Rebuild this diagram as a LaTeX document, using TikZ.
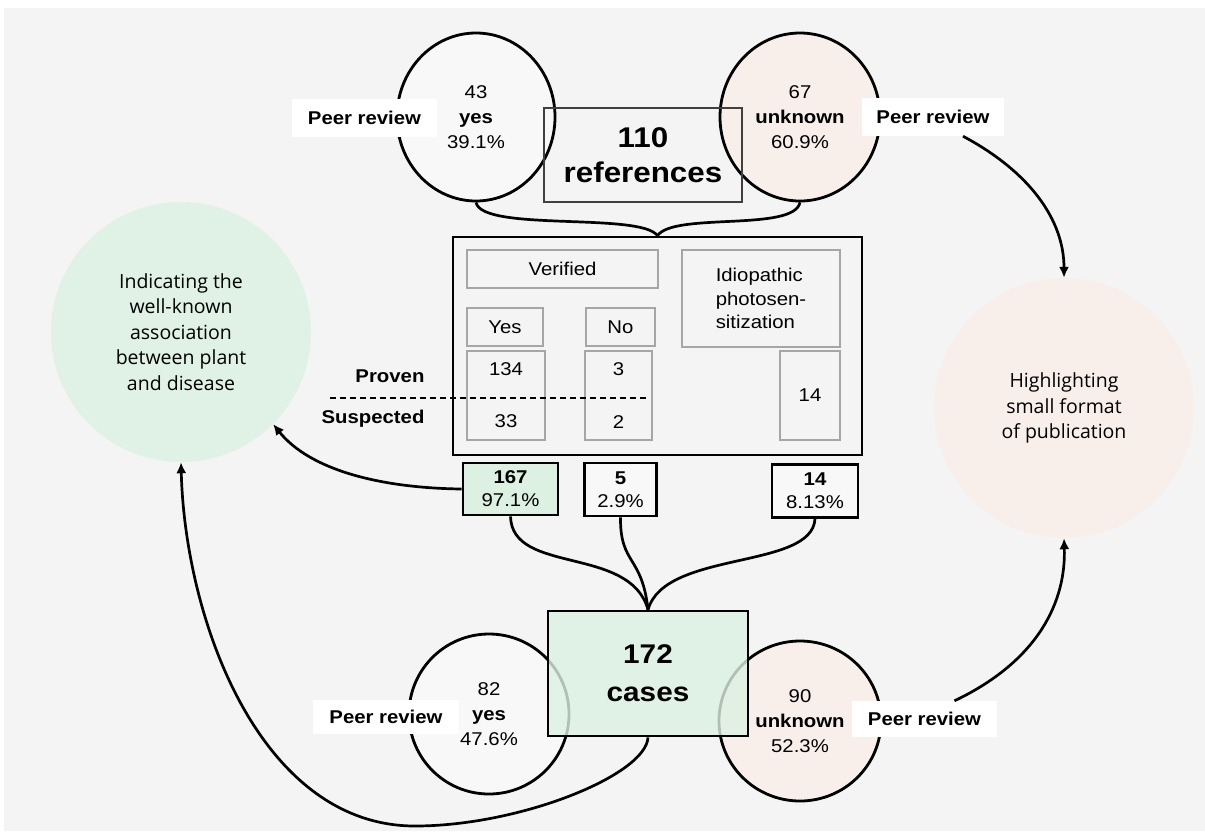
\documentclass[tikz,border=0pt]{standalone}
\usepackage{fontspec}
\setmainfont{Liberation Sans}[FakeStretch=1.1]
\newfontfamily\circfont{Open Sans}
\usepackage{tikz}
\usetikzlibrary{arrows.meta, shapes.geometric}
\definecolor{Paper}{HTML}{F4F4F4}
\definecolor{Mint}{HTML}{DFF2E5}
\definecolor{MintBox}{HTML}{DCF1E2}
\definecolor{Blush}{HTML}{F8EFEA}
\definecolor{Pale}{HTML}{F8F8F8}
\definecolor{CellLine}{HTML}{A6A6A6}
\definecolor{RefLine}{HTML}{404040}

\begin{document}
\begin{tikzpicture}[
        x=1pt,
        y=-1pt,
        font=\fontsize{18.5}{25}\selectfont,
        >={Latex[length=11pt,width=10pt]},
        link/.style={line width=2.7pt, draw=black},
        flow/.style={->, line width=2.7pt, draw=black},
        ring/.style={ellipse, draw=black, line width=2.8pt, inner sep=0pt, align=center},
        blob/.style={circle, inner sep=0pt, minimum size=260pt, align=center, font=\circfont\fontsize{19.5}{25.5}\selectfont},
        tag/.style={fill=white, inner sep=0pt, font=\bfseries\fontsize{18.5}{22}\selectfont},
        cell/.style={draw=CellLine, line width=1.2pt, inner sep=0pt},
        tally/.style={draw=black, line width=2.8pt, inner sep=0pt, align=center, font=\fontsize{18.5}{23}\selectfont}
      ]
        \useasboundingbox (0,0) rectangle (1205,831);
        \fill[white] (0,0) rectangle (1205,831);
        \fill[Paper] (4,8) rectangle (1205,831);

        \node[blob, fill=Mint] (plant) at (181,332) {Indicating the\\well-known\\association\\between plant\\and disease};
        \node[blob, fill=Blush] (format) at (1064,408) {Highlighting\\small format\\of publication};

        \node[ring, fill=Pale, minimum width=158pt, minimum height=168pt] (refyes) at (476,117) {43\\\textbf{yes}\\39.1\%};
        \node[ring, fill=Blush, minimum width=160pt, minimum height=168pt] (refunk) at (800,117) {67\\\textbf{unknown}\\60.9\%};
        \node[draw=RefLine, line width=1.4pt, inner sep=0pt, minimum width=198pt, minimum height=94pt, align=center, font=\bfseries\fontsize{28.5}{35}\selectfont] (refs) at (643,155) {110\\references};
        \node[tag, minimum width=145pt, minimum height=38pt] (pr1) at (364.5,118) {Peer review};
        \node[tag, minimum width=142pt, minimum height=38pt] (pr2) at (933,117) {Peer review};

        \node[draw=black, line width=2.8pt, minimum width=409pt, minimum height=218pt] (table) at (657.5,346) {};
        \node[cell, minimum width=191pt, minimum height=38pt] (verified) at (562.5,269) {Verified};
        \node[cell, minimum width=158pt, minimum height=97pt, align=left, font=\fontsize{18.5}{23.5}\selectfont] (idio) at (761,298.5) {Idiopathic\\photosen-\\sitization};
        \node[cell, minimum width=76pt, minimum height=38pt] (hdyes) at (505,327) {Yes};
        \node[cell, minimum width=69pt, minimum height=38pt] (hdno) at (620.5,327) {No};
        \node[cell, minimum width=78pt, minimum height=89pt] (colyes) at (506,395.5) {};
        \node[cell, minimum width=67pt, minimum height=89pt] (colno) at (618.5,395.5) {};
        \node[cell, minimum width=60pt, minimum height=89pt] (colidio) at (810,395.5) {14};
        \node (provyes) at (506,369) {134};
        \node (suspyes) at (506,421) {33};
        \node (provno) at (618.5,369) {3};
        \node (suspno) at (618.5,422) {2};
        \node[anchor=east, font=\bfseries\fontsize{18.5}{22}\selectfont] (proven) at (428,376) {Proven};
        \node[anchor=east, font=\bfseries\fontsize{18.5}{22}\selectfont] (suspected) at (428,419) {Suspected};
        \coordinate (dashL) at (330,398);
        \coordinate (dashR) at (648,398);
        \draw[line width=1.1pt, dash pattern=on 6pt off 4pt] (dashL) -- (dashR);

        \node[tally, fill=MintBox, minimum width=95pt, minimum height=52pt] (tot167) at (510.5,489) {\textbf{167}\\97.1\%};
        \node[tally, fill=Pale, minimum width=72pt, minimum height=53pt] (tot5) at (620.5,489.5) {\textbf{5}\\2.9\%};
        \node[tally, fill=Pale, minimum width=86pt, minimum height=53pt] (tot14) at (815,491) {\textbf{14}\\8.13\%};

        \node[ring, fill=Pale, minimum width=160pt, minimum height=160pt] (casyes) at (489,714) {82\\\textbf{yes}\\47.6\%};
        \node[ring, fill=Blush, minimum width=162pt, minimum height=160pt] (casunk) at (800,721) {90\\\textbf{unknown}\\52.3\%};
        \node[draw=black, line width=2.8pt, fill=MintBox, fill opacity=0.8, text opacity=1, inner sep=0pt, minimum width=200pt, minimum height=125pt, align=center, font=\bfseries\fontsize{27}{38}\selectfont] (cases) at (648,673.5) {172\\cases};
        \node[tag, minimum width=146pt, minimum height=34pt] (pr3) at (386,716.5) {Peer review};
        \node[tag, minimum width=145pt, minimum height=36pt] (pr4) at (924.5,719) {Peer review};

        \draw[link] (refyes.south) .. controls (482,232) and (640,212) .. (table.north);
        \draw[link] (refunk.south) .. controls (794,232) and (674,212) .. (table.north);

        \draw[link] (tot167.south) .. controls (512,575) and (630,545) .. (cases.north);
        \draw[link] (tot5.south) .. controls (620,565) and (642,555) .. (cases.north);
        \draw[link] (tot14.south) .. controls (812,570) and (665,550) .. (cases.north);

        \draw[flow] ([xshift=30pt]pr2.south) .. controls (1030,172) and (1064,220) .. (format.north);
        \draw[flow] ([xshift=30pt]pr4.north) .. controls (1040,660) and (1066,600) .. (format.south);
        \draw[flow] (tot167.west) .. controls (380,488) and (310,470) .. (plant.-45);
        \draw[flow] (cases.south) .. controls (646,775) and (520,826) .. (415,826) .. controls (260,826) and (185,620) .. (plant.south);
      \end{tikzpicture}
\end{document}
